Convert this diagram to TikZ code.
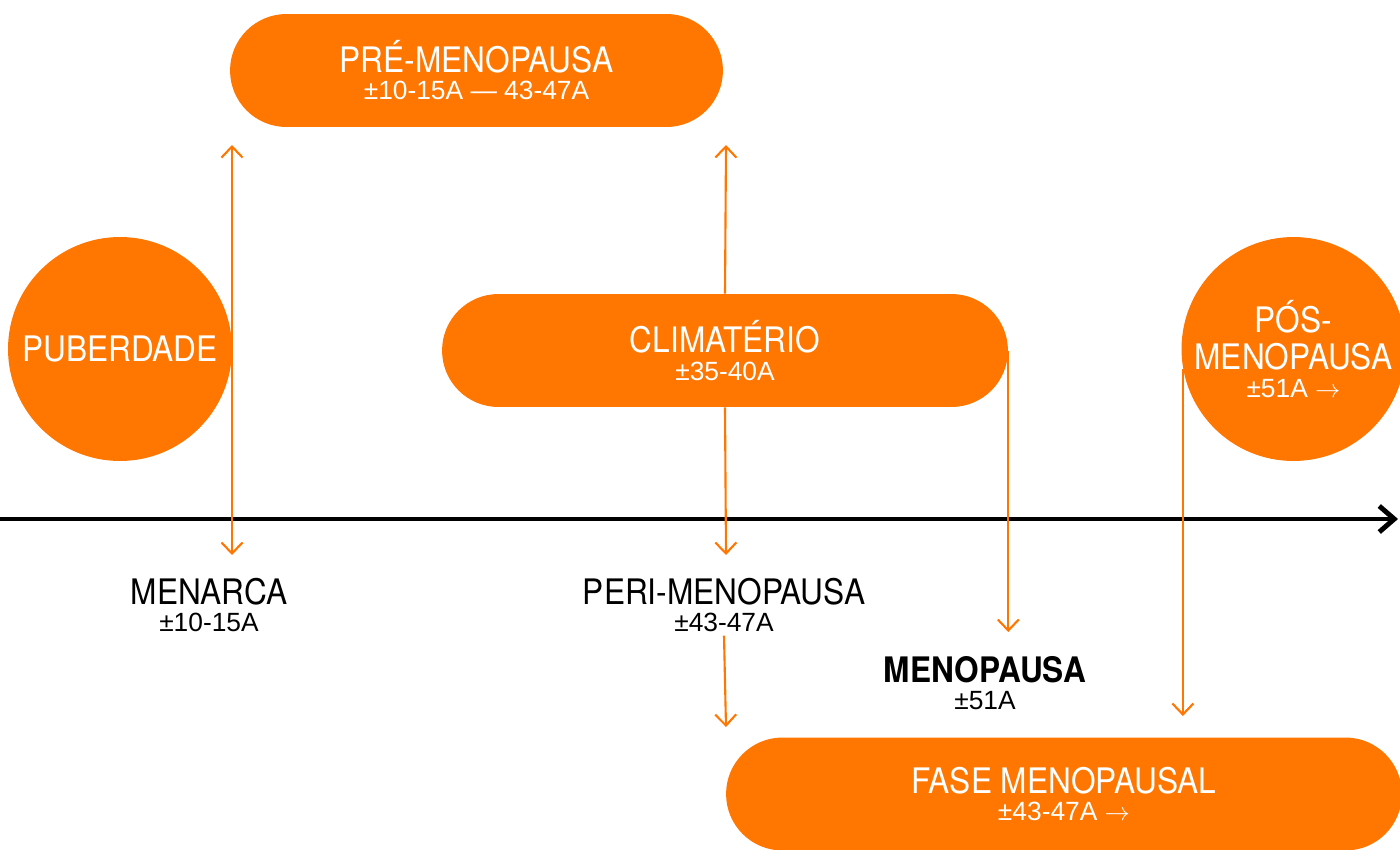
\documentclass[tikz,border=0pt]{standalone}
\usepackage{fontspec}
\setmainfont{Liberation Sans}
\newfontfamily\headfont[FakeStretch=0.9]{TeX Gyre Heros}
\usetikzlibrary{arrows.meta}
\definecolor{laranja}{RGB}{255,118,0}
\tikzset{
  pill/.style={rectangle, fill=laranja, text=white, minimum height=2.26cm,
    rounded corners=1.13cm, align=center, inner sep=0pt,
    font=\fontsize{20}{15.4}\selectfont},
  blob/.style={circle, fill=laranja, text=white, minimum size=4.48cm,
    align=center, inner sep=-8pt, font=\fontsize{20}{15.4}\selectfont},
  marco/.style={align=center, text=black, inner sep=2pt,
    font=\fontsize{20}{15.4}\selectfont},
  seta/.style={laranja, line width=1.2pt, -{Straight Barb[length=2.2mm, width=4.2mm]}},
  dupla/.style={laranja, line width=1.2pt,
    {Straight Barb[length=2.2mm, width=4.2mm]}-{Straight Barb[length=2.2mm, width=4.2mm]}},
  eixo/.style={black, line width=2.8pt, -{Straight Barb[length=3mm, width=5.2mm]}}
}
\newcommand{\titulo}[1]{{\headfont\fontsize{20}{15.4}\selectfont #1}}
\newcommand{\idade}[1]{{\fontsize{15}{15.4}\selectfont #1}}
\newcommand{\adiante}{\ensuremath{\rightarrow}}

\begin{document}
\begin{tikzpicture}[x=0.02cm, y=-0.02cm]
  \useasboundingbox (0,0) rectangle (1400,849);

  % Define points
  \coordinate (eixoA) at (0,519);
  \coordinate (eixoB) at (1398,519);
  \coordinate (preL) at (232,145);
  \coordinate (menarcaSeta) at (232,555);
  \coordinate (preR) at (726,145);
  \coordinate (periSeta) at (726,555);
  \coordinate (faseSeta) at (726,727);
  \coordinate (menoSeta) at (1007,632);
  \coordinate (posSeta) at (1182,716);

  % Draw phases
  \node[pill, minimum width=9.86cm] (pre) at (476.5,70.5)
    {\titulo{PRÉ-MENOPAUSA}\\\idade{±10-15A — 43-47A}};
  \node[pill, minimum width=11.32cm] (clim) at (725,350.5)
    {\titulo{CLIMATÉRIO}\\\idade{±35-40A}};
  \node[pill, minimum width=13.52cm] (fase) at (1064,794)
    {\titulo{FASE MENOPAUSAL}\\\idade{±43-47A \adiante}};
  \node[blob] (pub) at (120,349) {\titulo{PUBERDADE}};
  \node[blob] (pos) at (1293.5,349)
    {\titulo{PÓS-}\\[5.6pt]\titulo{MENOPAUSA}\\[1pt]\idade{±51A \adiante}};

  % Draw timeline
  \draw[eixo] (eixoA) -- (eixoB);

  % Labels
  \node[marco] (menarca) at (209,605) {\titulo{MENARCA}\\\idade{±10-15A}};
  \node[marco] (peri) at (724,605) {\titulo{PERI-MENOPAUSA}\\\idade{±43-47A}};
  \node[marco] (meno) at (985,683)
    {{\headfont\bfseries\fontsize{20}{15.4}\selectfont MENOPAUSA}\\\idade{±51A}};

  % Draw arrows
  \draw[dupla] (preL) -- (menarcaSeta);
  \draw[seta] (clim.north) -- (preR);
  \draw[seta] (clim.south) -- (periSeta);
  \draw[seta] (peri.south) -- (faseSeta);
  \draw[seta] (clim.east) -- (clim.east |- menoSeta);
  \draw[seta] (pos.190) -- (pos.190 |- posSeta);

\end{tikzpicture}
\end{document}
